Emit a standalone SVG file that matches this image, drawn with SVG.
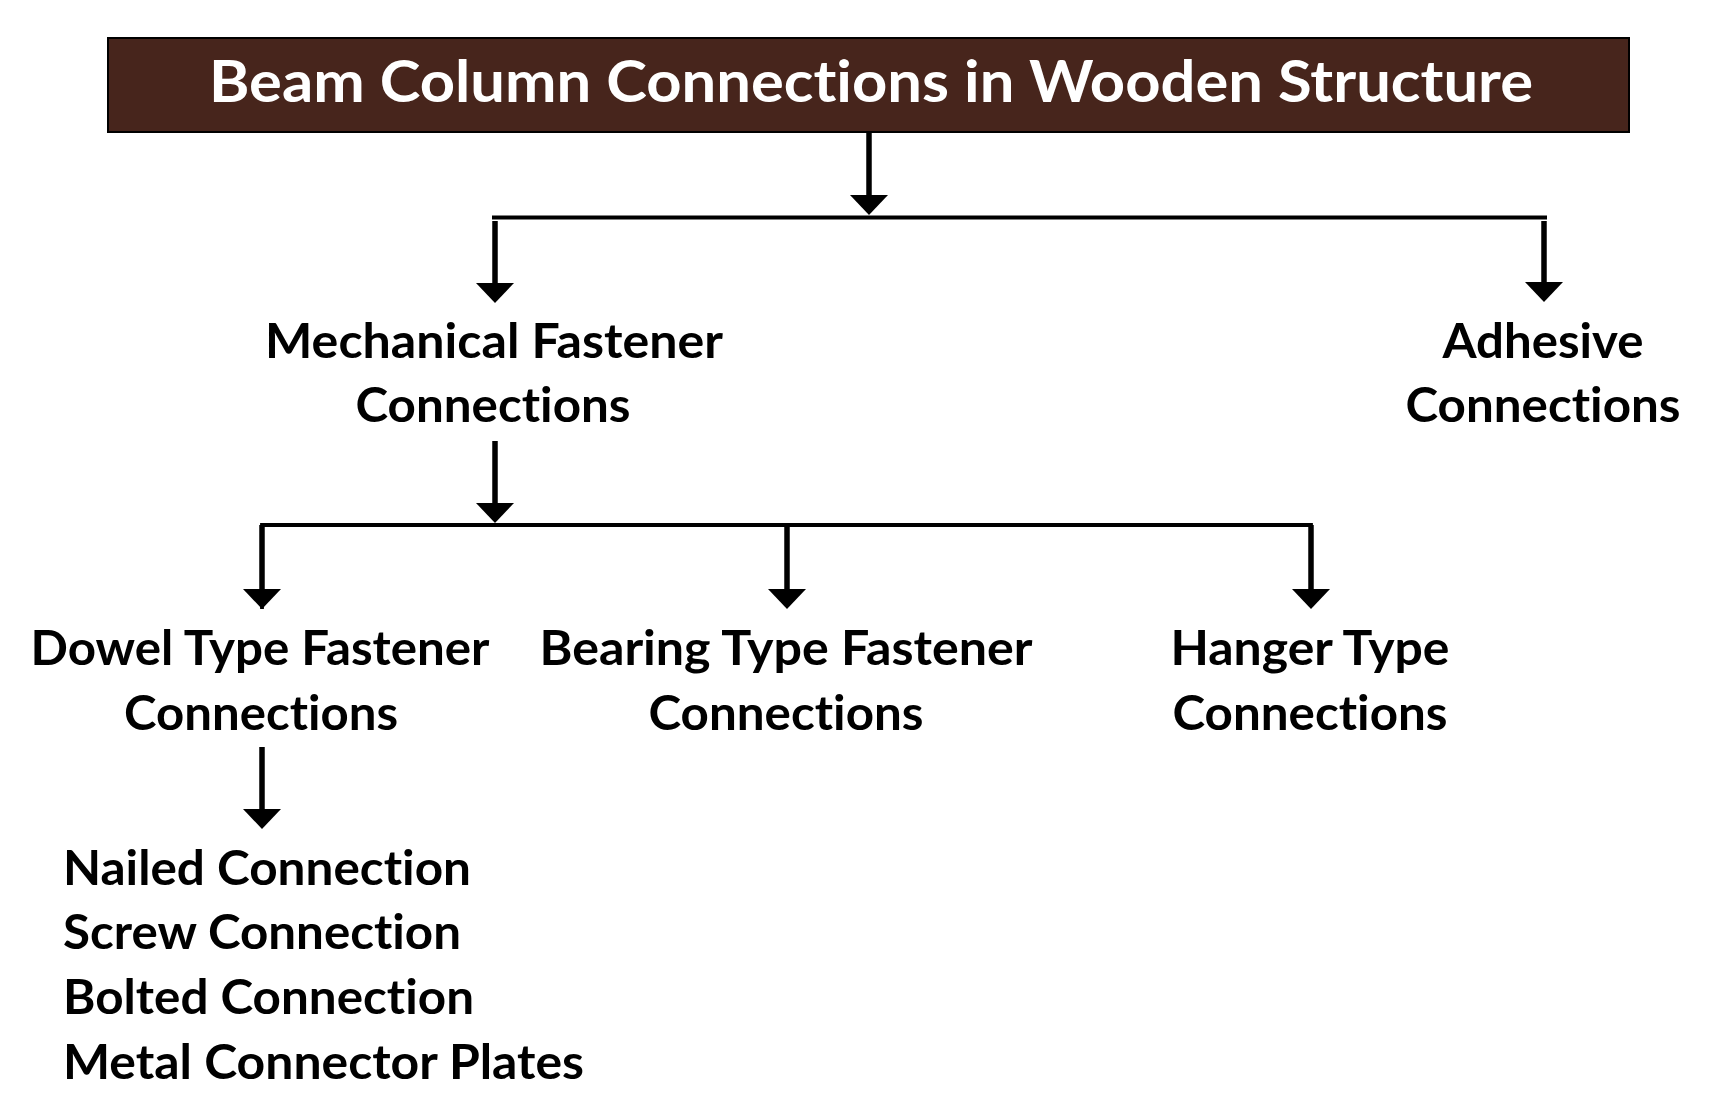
<svg xmlns="http://www.w3.org/2000/svg" width="1728" height="1116" viewBox="0 0 1728 1116">
  <defs>
    <style>
      .t { font-family: Lato, "Open Sans", "Liberation Sans", sans-serif; font-weight: 700; font-size: 47px; fill: #000; font-variant-ligatures: none; font-feature-settings: "liga" 0; }
      .title { font-family: Lato, "Open Sans", "Liberation Sans", sans-serif; font-weight: 700; font-size: 58px; fill: #ffffff; font-variant-ligatures: none; font-feature-settings: "liga" 0; }
      .c { text-anchor: middle; }
      .shaft { stroke: #000; stroke-width: 5.5; fill: none; }
      .bar { stroke: #000; stroke-width: 3.8; fill: none; }
      .head { fill: #000; }
    </style>
  </defs>
  <rect width="1728" height="1116" fill="#ffffff"/>

  <g id="title">
    <rect x="108" y="38" width="1521" height="94" fill="#47251C" stroke="#000" stroke-width="2"/>
    <text class="title c" x="871" y="102" textLength="1324" lengthAdjust="spacingAndGlyphs">Beam Column Connections in Wooden Structure</text>
  </g>

  <g id="mechanical">
    <text class="t c" x="494" y="358" textLength="458" lengthAdjust="spacingAndGlyphs">Mechanical Fastener</text>
    <text class="t c" x="493" y="422" textLength="275" lengthAdjust="spacingAndGlyphs">Connections</text>
  </g>

  <g id="adhesive">
    <text class="t c" x="1543" y="358" textLength="201" lengthAdjust="spacingAndGlyphs">Adhesive</text>
    <text class="t c" x="1543" y="422" textLength="275" lengthAdjust="spacingAndGlyphs">Connections</text>
  </g>

  <g id="dowel">
    <text class="t c" x="260" y="665" textLength="459" lengthAdjust="spacingAndGlyphs">Dowel Type Fastener</text>
    <text class="t c" x="261" y="730" textLength="274" lengthAdjust="spacingAndGlyphs">Connections</text>
  </g>

  <g id="bearing">
    <text class="t c" x="786" y="665" textLength="493" lengthAdjust="spacingAndGlyphs">Bearing Type Fastener</text>
    <text class="t c" x="786" y="730" textLength="275" lengthAdjust="spacingAndGlyphs">Connections</text>
  </g>

  <g id="hanger">
    <text class="t c" x="1310" y="665" textLength="279" lengthAdjust="spacingAndGlyphs">Hanger Type</text>
    <text class="t c" x="1310" y="730" textLength="275" lengthAdjust="spacingAndGlyphs">Connections</text>
  </g>

  <g id="dowel-types">
    <text class="t" x="63" y="885" textLength="408" lengthAdjust="spacingAndGlyphs">Nailed Connection</text>
    <text class="t" x="63" y="949" textLength="398" lengthAdjust="spacingAndGlyphs">Screw Connection</text>
    <text class="t" x="63" y="1014" textLength="411" lengthAdjust="spacingAndGlyphs">Bolted Connection</text>
    <text class="t" x="63" y="1079" textLength="521" lengthAdjust="spacingAndGlyphs">Metal Connector Plates</text>
  </g>

  <g id="connectors">
    <!-- title to branch bar -->
    <line class="shaft" x1="869" y1="132" x2="869" y2="196"/>
    <polygon class="head" points="850,195 888,195 869,215"/>
    <line class="bar" x1="492" y1="217.5" x2="1547" y2="217.5"/>
    <!-- to Mechanical -->
    <line class="shaft" x1="495" y1="221" x2="495" y2="284"/>
    <polygon class="head" points="476,283 514,283 495,303"/>
    <!-- to Adhesive -->
    <line class="shaft" x1="1544" y1="221" x2="1544" y2="283"/>
    <polygon class="head" points="1525,282 1563,282 1544,302"/>
    <!-- Mechanical to second bar -->
    <line class="shaft" x1="495" y1="441" x2="495" y2="504"/>
    <polygon class="head" points="476,503 514,503 495,523"/>
    <path class="bar" d="M262,609 V525 H1311 V589"/>
    <!-- to Dowel -->
    <line class="shaft" x1="262" y1="525" x2="262" y2="590"/>
    <polygon class="head" points="243,589 281,589 262,609"/>
    <!-- to Bearing -->
    <line class="shaft" x1="787" y1="525" x2="787" y2="590"/>
    <polygon class="head" points="768,589 806,589 787,609"/>
    <!-- to Hanger -->
    <line class="shaft" x1="1311" y1="525" x2="1311" y2="590"/>
    <polygon class="head" points="1292,589 1330,589 1311,609"/>
    <!-- Dowel to list -->
    <line class="shaft" x1="262" y1="747" x2="262" y2="810"/>
    <polygon class="head" points="243,809 281,809 262,829"/>
  </g>
</svg>
